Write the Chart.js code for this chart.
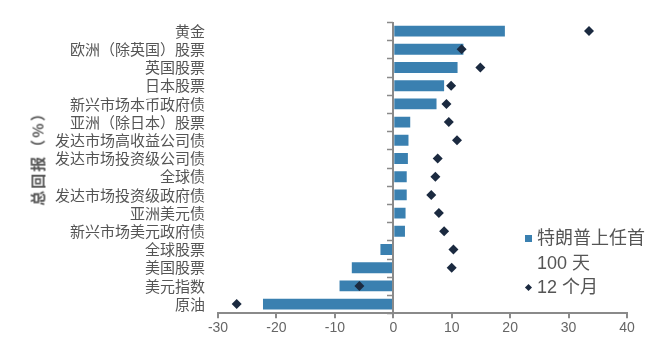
<!DOCTYPE html>
<html>
<head>
<meta charset="utf-8">
<script src="https://cdn.jsdelivr.net/npm/chart.js@4.4.0/dist/chart.umd.min.js"></script>
<style>
    body { margin: 0; background: #fff; }
    #wrap { position: relative; width: 668px; height: 352px; }
    #ytitle {
        position: absolute; left: 37px; top: 155px;
        transform: translate(-50%, -50%) rotate(-90deg);
        font-family: "Noto Sans CJK SC", sans-serif; font-weight: bold;
        font-size: 15px; color: #555; white-space: nowrap; letter-spacing: 2px;
    }
    #legend {
        position: absolute; left: 522px; top: 226px;
        font-family: "Liberation Sans", "Noto Sans CJK SC", sans-serif;
        font-size: 18px; color: #555; line-height: 24.5px;
    }
    #legend .row { position: relative; padding-left: 15px; white-space: nowrap; }
    #legend .box { position: absolute; left: 3px; top: 9px; width: 7px; height: 7px; background: #3a80b0; }
    #legend .dia { position: absolute; left: 4px; top: 10px; width: 5px; height: 5px; background: #1b2a40; transform: rotate(45deg); }
</style>
</head>
<body>
<div id="wrap">
    <canvas id="chart" width="668" height="352"></canvas>
    <div id="ytitle">总回报（%）</div>
    <div id="legend">
        <div class="row"><span class="box"></span>特朗普上任首</div>
        <div class="row">100 天</div>
        <div class="row"><span class="dia"></span>12 个月</div>
    </div>
</div>
<script>
// categories, top to bottom
var categories = ['黄金', '欧洲（除英国）股票', '英国股票', '日本股票', '新兴市场本币政府债',
    '亚洲（除日本）股票', '发达市场高收益公司债', '发达市场投资级公司债', '全球债',
    '发达市场投资级政府债', '亚洲美元债', '新兴市场美元政府债', '全球股票', '美国股票',
    '美元指数', '原油'];

// total return (%) - first 100 days after inauguration
var first100Days = [19.1, 12.0, 11.0, 8.7, 7.4, 2.9, 2.6, 2.5, 2.3, 2.3, 2.1, 2.0, -2.2, -7.1, -9.2, -22.3];

// total return (%) - 12 months
var twelveMonths = [33.5, 11.7, 14.9, 9.9, 9.1, 9.5, 10.9, 7.6, 7.2, 6.5, 7.8, 8.7, 10.3, 10.0, -5.8, -26.8];

// x axis range / ticks
var xMin = -30, xMax = 40, xStep = 10;

var axisGrey = '#8a8a8a';

// draws the category axis line at x = 0 with tick marks between categories
var zeroAxisPlugin = {
    id: 'zeroAxis',
    afterDatasetsDraw: function (chart) {
        var ctx = chart.ctx;
        var xs = chart.scales.x, ys = chart.scales.y;
        var x0 = Math.round(xs.getPixelForValue(0));
        var top = chart.chartArea.top, bottom = chart.chartArea.bottom;
        var n = categories.length;
        var step = (bottom - top) / n;
        ctx.save();
        ctx.strokeStyle = axisGrey;
        ctx.lineWidth = 2;
        ctx.beginPath();
        ctx.moveTo(x0, top);
        ctx.lineTo(x0, bottom);
        ctx.stroke();
        ctx.lineWidth = 1.5;
        for (var i = 0; i <= n; i++) {
            var y = Math.round(ys.getPixelForValue(i) - step / 2) + 0.5;
            ctx.beginPath();
            ctx.moveTo(x0 - 6, y);
            ctx.lineTo(x0, y);
            ctx.stroke();
        }
        ctx.restore();
    }
};

new Chart(document.getElementById('chart').getContext('2d'), {
    type: 'bar',
    data: {
        labels: categories,
        datasets: [
            {
                type: 'bar',
                label: '特朗普上任首100天',
                data: first100Days,
                backgroundColor: '#3a80b0',
                borderWidth: 0,
                barPercentage: 0.6,
                categoryPercentage: 1.0,
                order: 2
            },
            {
                type: 'line',
                label: '12个月',
                indexAxis: 'y',
                data: twelveMonths,
                showLine: false,
                pointStyle: 'rectRot',
                pointRadius: 5,
                pointBackgroundColor: '#1b2a40',
                pointBorderColor: '#1b2a40',
                pointBorderWidth: 0,
                order: 1
            }
        ]
    },
    options: {
        indexAxis: 'y',
        responsive: false,
        animation: false,
        layout: { padding: { left: 10, right: 41, top: 20, bottom: 13 } },
        plugins: {
            legend: { display: false },
            tooltip: { enabled: false }
        },
        scales: {
            x: {
                min: xMin,
                max: xMax,
                ticks: {
                    stepSize: xStep,
                    padding: 2,
                    color: '#666',
                    font: { family: 'Liberation Sans', size: 14 }
                },
                grid: { drawOnChartArea: false, tickLength: 5, color: axisGrey, lineWidth: 2 },
                border: { color: axisGrey, width: 2 }
            },
            y: {
                position: 'left',
                afterFit: function (scale) { scale.width = 208; },
                ticks: {
                    autoSkip: false,
                    padding: 13,
                    color: '#555',
                    font: { family: 'Noto Sans CJK SC', size: 15 }
                },
                grid: { display: false, drawTicks: false },
                border: { display: false }
            }
        }
    },
    plugins: [zeroAxisPlugin]
});
</script>
</body>
</html>
